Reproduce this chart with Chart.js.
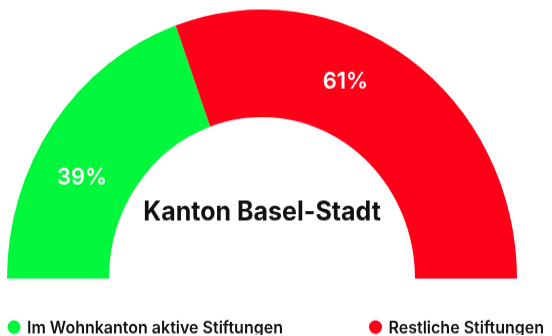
<!DOCTYPE html>
<html>
<head>
<meta charset="utf-8">
<script src="https://cdn.jsdelivr.net/npm/chart.js@4/dist/chart.umd.min.js"></script>
<style>
  html, body { margin: 0; padding: 0; background: #fff; width: 552px; height: 336px; overflow: hidden; }
  #wrap { width: 552px; height: 318px; transform: scaleY(1.055); transform-origin: 0 0; }
  #gauge { display: block; }
</style>
</head>
<body>
<div id="wrap">
  <canvas id="gauge" width="552" height="318"></canvas>
</div>
<script>
const categories = ["Im Wohnkanton aktive Stiftungen", "Restliche Stiftungen"];
const shares = [39, 61];
const colors = ["#00f73c", "#ff0019"];
const centerTitle = "Kanton Basel-Stadt";

const gaugeText = {
  id: "gaugeText",
  afterDraw(chart) {
    const { ctx } = chart;
    const meta = chart.getDatasetMeta(0);
    ctx.save();
    ctx.textAlign = "center";
    ctx.textBaseline = "middle";
    ctx.fillStyle = "#fff";
    ctx.font = "600 22px Inter, sans-serif";
    meta.data.forEach((arc, i) => {
      const { x, y, startAngle, endAngle, innerRadius, outerRadius } =
        arc.getProps(["x", "y", "startAngle", "endAngle", "innerRadius", "outerRadius"], true);
      const a = startAngle + (endAngle - startAngle) * 0.4;
      const r = (innerRadius + outerRadius) / 2;
      ctx.fillText(shares[i] + "%", x + Math.cos(a) * r, y + Math.sin(a) * r);
    });
    const c = meta.data[0];
    ctx.fillStyle = "#111";
    ctx.font = "bold 25px Inter, sans-serif";
    ctx.fillText(centerTitle, c.x, c.y - 63);

    // legende: erster Eintrag links, zweiter rechtsbündig
    ctx.font = "600 16px Inter, sans-serif";
    const ly = chart.height - 8;
    categories.forEach((label, i) => {
      const w = ctx.measureText(label).width;
      const left = i === 0 ? 27 : 544 - w;
      ctx.fillStyle = colors[i];
      ctx.beginPath();
      ctx.arc(left - 13, ly, 6.5, 0, Math.PI * 2);
      ctx.fill();
      ctx.fillStyle = "#111";
      ctx.textAlign = i === 0 ? "left" : "right";
      ctx.fillText(label, i === 0 ? left : 544, ly + 1);
    });
    ctx.restore();
  }
};

new Chart(document.getElementById("gauge"), {
  type: "doughnut",
  data: {
    labels: categories,
    datasets: [{
      data: shares,
      backgroundColor: colors,
      borderWidth: 0,
    }],
  },
  options: {
    responsive: false,
    animation: false,
    rotation: -90,
    circumference: 180,
    cutout: "60%",
    layout: { padding: { left: 7, right: 35, top: 9, bottom: 54 } },
    plugins: {
      legend: { display: false },
      tooltip: { enabled: false },
    },
  },
  plugins: [gaugeText],
});
</script>
</body>
</html>
